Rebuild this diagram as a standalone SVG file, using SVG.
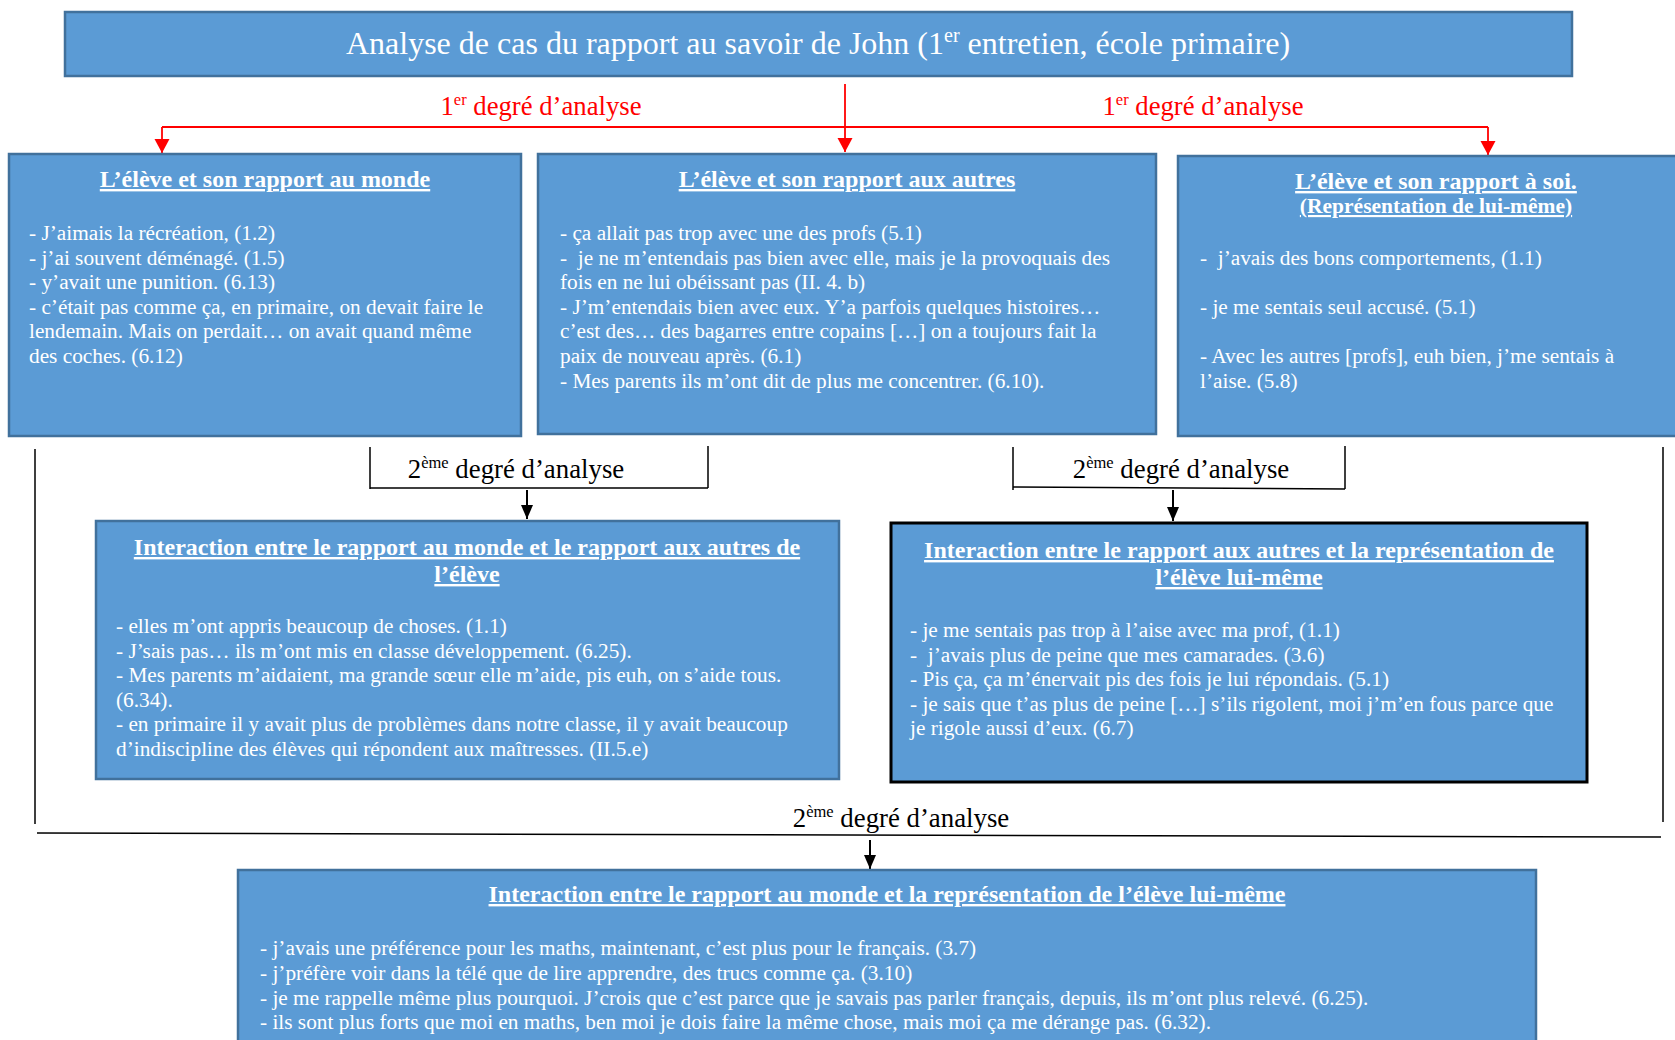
<svg xmlns="http://www.w3.org/2000/svg" width="1675" height="1040" viewBox="0 0 1675 1040" xml:space="preserve">
<defs>
<style>
.box{fill:#5B9BD5;stroke:#41719C;stroke-width:2.5}
.boxk{fill:#5B9BD5;stroke:#000;stroke-width:3}
.t{font-family:"Liberation Serif","Times New Roman",serif;fill:#fff}
.hd{font-family:"Liberation Serif","Times New Roman",serif;fill:#fff;font-weight:bold;font-size:24px;text-anchor:middle;text-decoration:underline}
.bd{font-family:"Liberation Serif","Times New Roman",serif;fill:#fff;font-size:21.3px;white-space:pre}
.red{font-family:"Liberation Serif","Times New Roman",serif;fill:#FF0000;font-size:26.7px;text-anchor:middle}
.blk{font-family:"Liberation Serif","Times New Roman",serif;fill:#000;font-size:26.8px;text-anchor:middle}
.rl{stroke:#FF0000;stroke-width:1.8;fill:none}
.kl{stroke:#000;stroke-width:1.5;fill:none}
.ka{stroke:#000;stroke-width:2;fill:none}
</style>
<marker id="ra" markerUnits="userSpaceOnUse" markerWidth="16" markerHeight="16" refX="14" refY="7.5" orient="auto"><path d="M0,0 L14,7.5 L0,15 z" fill="#FF0000"/></marker>
<marker id="ka" markerUnits="userSpaceOnUse" markerWidth="16" markerHeight="14" refX="14" refY="6" orient="auto"><path d="M0,0 L14,6 L0,12 z" fill="#000"/></marker>
</defs>
<rect width="1675" height="1040" fill="#fff"/>

<g id="connectors">
<path class="rl" d="M162,127 H1488"/>
<path class="rl" d="M162,127 V153" marker-end="url(#ra)"/>
<path class="rl" d="M845,84 V152" marker-end="url(#ra)"/>
<path class="rl" d="M1488,127 V155" marker-end="url(#ra)"/>
<text class="red" x="541" y="115">1<tspan font-size="16.5" dy="-10">er</tspan><tspan dy="10"> degré d’analyse</tspan></text>
<text class="red" x="1203" y="115">1<tspan font-size="16.5" dy="-10">er</tspan><tspan dy="10"> degré d’analyse</tspan></text>

<path class="kl" d="M370,447 V489 M370,488 H708 M708,446 V488"/>
<path class="ka" d="M527,490 V519" marker-end="url(#ka)"/>
<text class="blk" x="516" y="478">2<tspan font-size="16.5" dy="-10">ème</tspan><tspan dy="10"> degré d’analyse</tspan></text>

<path class="kl" d="M1013,447 V490 M1013,487 L1345,489 M1345,446 V489"/>
<path class="ka" d="M1173,490 V521" marker-end="url(#ka)"/>
<text class="blk" x="1181" y="478">2<tspan font-size="16.5" dy="-10">ème</tspan><tspan dy="10"> degré d’analyse</tspan></text>

<path class="kl" d="M35,449 V824 M1663,447 V822 M37,833 L1661,837"/>
<path class="ka" d="M870,840 V869" marker-end="url(#ka)"/>
<text class="blk" x="901" y="827">2<tspan font-size="16.5" dy="-10">ème</tspan><tspan dy="10"> degré d’analyse</tspan></text>
</g>

<g id="title">
<rect class="box" x="65" y="12" width="1507" height="64"/>
<text class="t" x="818" y="54" font-size="32" text-anchor="middle">Analyse de cas du rapport au savoir de John (1<tspan font-size="20" dy="-12">er</tspan><tspan dy="12"> entretien, école primaire)</tspan></text>
</g>

<g id="monde">
<rect class="box" x="9" y="154" width="512" height="282"/>
<text class="hd" x="265" y="187">L’élève et son rapport au monde</text>
<text class="bd" x="29" y="240">- J’aimais la récréation, (1.2)</text>
<text class="bd" x="29" y="264.6">- j’ai souvent déménagé. (1.5)</text>
<text class="bd" x="29" y="289.2">- y’avait une punition. (6.13)</text>
<text class="bd" x="29" y="313.8">- c’était pas comme ça, en primaire, on devait faire le</text>
<text class="bd" x="29" y="338.4">lendemain. Mais on perdait… on avait quand même</text>
<text class="bd" x="29" y="363">des coches. (6.12)</text>
</g>

<g id="autres">
<rect class="box" x="538" y="154" width="618" height="280"/>
<text class="hd" x="847" y="187">L’élève et son rapport aux autres</text>
<text class="bd" x="560" y="240">- ça allait pas trop avec une des profs (5.1)</text>
<text class="bd" x="560" y="264.6">-&#160; je ne m’entendais pas bien avec elle, mais je la provoquais des</text>
<text class="bd" x="560" y="289.2">fois en ne lui obéissant pas (II. 4. b)</text>
<text class="bd" x="560" y="313.8">- J’m’entendais bien avec eux. Y’a parfois quelques histoires…</text>
<text class="bd" x="560" y="338.4">c’est des… des bagarres entre copains […] on a toujours fait la</text>
<text class="bd" x="560" y="363">paix de nouveau après. (6.1)</text>
<text class="bd" x="560" y="387.6">- Mes parents ils m’ont dit de plus me concentrer. (6.10).</text>
</g>

<g id="soi">
<rect class="box" x="1178" y="156" width="510" height="280"/>
<text class="hd" x="1436" y="189">L’élève et son rapport à soi.</text>
<text class="hd" x="1436" y="213" style="font-size:21.5px">(Représentation de lui-même)</text>
<text class="bd" x="1200" y="265">-&#160; j’avais des bons comportements, (1.1)</text>
<text class="bd" x="1200" y="314">- je me sentais seul accusé. (5.1)</text>
<text class="bd" x="1200" y="363">- Avec les autres [profs], euh bien, j’me sentais à</text>
<text class="bd" x="1200" y="388">l’aise. (5.8)</text>
</g>

<g id="monde-autres">
<rect class="box" x="96" y="521" width="743" height="258"/>
<text class="hd" x="467" y="555">Interaction entre le rapport au monde et le rapport aux autres de</text>
<text class="hd" x="467" y="582">l’élève</text>
<text class="bd" x="116" y="633">- elles m’ont appris beaucoup de choses. (1.1)</text>
<text class="bd" x="116" y="657.5">- J’sais pas… ils m’ont mis en classe développement. (6.25).</text>
<text class="bd" x="116" y="682">- Mes parents m’aidaient, ma grande sœur elle m’aide, pis euh, on s’aide tous.</text>
<text class="bd" x="116" y="706.5">(6.34).</text>
<text class="bd" x="116" y="731">- en primaire il y avait plus de problèmes dans notre classe, il y avait beaucoup</text>
<text class="bd" x="116" y="755.5">d’indiscipline des élèves qui répondent aux maîtresses. (II.5.e)</text>
</g>

<g id="autres-soi">
<rect class="boxk" x="891" y="523" width="696" height="259"/>
<text class="hd" x="1239" y="558">Interaction entre le rapport aux autres et la représentation de</text>
<text class="hd" x="1239" y="585">l’élève lui-même</text>
<text class="bd" x="910" y="637">- je me sentais pas trop à l’aise avec ma prof, (1.1)</text>
<text class="bd" x="910" y="661.5">-&#160; j’avais plus de peine que mes camarades. (3.6)</text>
<text class="bd" x="910" y="686">- Pis ça, ça m’énervait pis des fois je lui répondais. (5.1)</text>
<text class="bd" x="910" y="710.5">- je sais que t’as plus de peine […] s’ils rigolent, moi j’m’en fous parce que</text>
<text class="bd" x="910" y="735">je rigole aussi d’eux. (6.7)</text>
</g>

<g id="monde-soi">
<rect class="box" x="238" y="870" width="1298" height="185"/>
<text class="hd" x="887" y="902">Interaction entre le rapport au monde et la représentation de l’élève lui-même</text>
<text class="bd" x="260" y="955">- j’avais une préférence pour les maths, maintenant, c’est plus pour le français. (3.7)</text>
<text class="bd" x="260" y="980">- j’préfère voir dans la télé que de lire apprendre, des trucs comme ça. (3.10)</text>
<text class="bd" x="260" y="1004.5">- je me rappelle même plus pourquoi. J’crois que c’est parce que je savais pas parler français, depuis, ils m’ont plus relevé. (6.25).</text>
<text class="bd" x="260" y="1029">- ils sont plus forts que moi en maths, ben moi je dois faire la même chose, mais moi ça me dérange pas. (6.32).</text>
</g>
</svg>
